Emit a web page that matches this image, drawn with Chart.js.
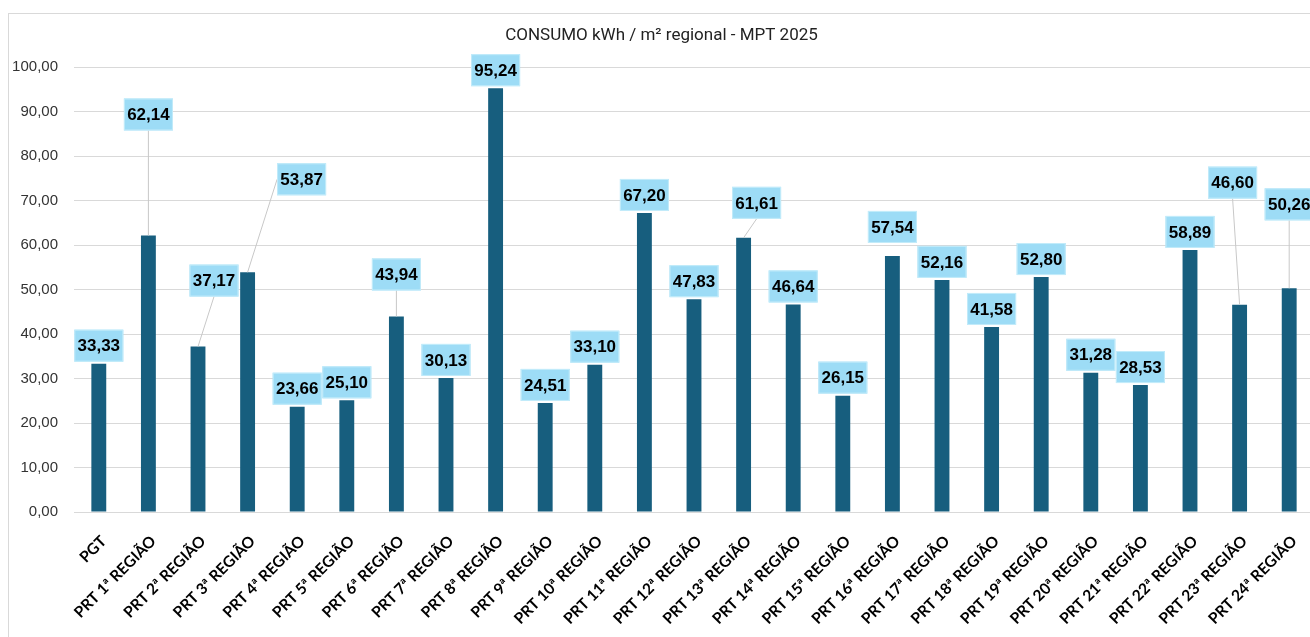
<!DOCTYPE html>
<html>
<head>
<meta charset="utf-8">
<title>CONSUMO kWh / m² regional - MPT 2025</title>
<script src="https://cdn.jsdelivr.net/npm/chart.js@4.4.1/dist/chart.umd.min.js"></script>
<style>
  html, body { margin: 0; padding: 0; background: #fff; overflow: hidden; width: 1310px; height: 637px; }
  .chart-box { position: absolute; left: 8px; top: 13px; width: 1316px; height: 623px; border-left: 1px solid #d9d9d9; border-top: 1px solid #d9d9d9; }
</style>
</head>
<body>
<div class="chart-box"><canvas id="consumoChart"></canvas></div>
<script>
(function () {
  'use strict';

  var CATEGORIES = ['PGT', 'PRT 1ª REGIÃO', 'PRT 2ª REGIÃO', 'PRT 3ª REGIÃO', 'PRT 4ª REGIÃO', 'PRT 5ª REGIÃO',
    'PRT 6ª REGIÃO', 'PRT 7ª REGIÃO', 'PRT 8ª REGIÃO', 'PRT 9ª REGIÃO', 'PRT 10ª REGIÃO', 'PRT 11ª REGIÃO',
    'PRT 12ª REGIÃO', 'PRT 13ª REGIÃO', 'PRT 14ª REGIÃO', 'PRT 15ª REGIÃO', 'PRT 16ª REGIÃO', 'PRT 17ª REGIÃO',
    'PRT 18ª REGIÃO', 'PRT 19ª REGIÃO', 'PRT 20ª REGIÃO', 'PRT 21ª REGIÃO', 'PRT 22ª REGIÃO', 'PRT 23ª REGIÃO',
    'PRT 24ª REGIÃO'];
  var CONSUMO = [33.33, 62.14, 37.17, 53.87, 23.66, 25.10, 43.94, 30.13, 95.24, 24.51, 33.10, 67.20, 47.83,
    61.61, 46.64, 26.15, 57.54, 52.16, 41.58, 52.80, 31.28, 28.53, 58.89, 46.60, 50.26];
  var Y_MIN = 0;
  var Y_MAX = 100;
  var Y_STEP = 10;
  var TITLE = 'CONSUMO kWh / m² regional - MPT 2025';

  // labels that were dragged away from their bar in the original sheet (px: dx, dy)
  var LABEL_NUDGE = { 1: [0, -103], 2: [16, -48], 3: [54, -75], 6: [0, -24], 13: [13, -17], 16: [0, -11], 23: [-7, -104], 24: [0, -66] };

  var BAR_COLOR = '#175e7e';
  var BOX_COLOR = '#9ddcf6';
  var BOX_W = 49;
  var BOX_H = 32;

  function fmt(v) {
    return Number(v).toFixed(2).replace('.', ',');
  }

  var calloutPlugin = {
    id: 'callouts',
    afterDatasetsDraw: function (chart) {
      var ctx = chart.ctx;
      var meta = chart.getDatasetMeta(0);
      var data = chart.data.datasets[0].data;
      ctx.save();
      meta.data.forEach(function (bar, i) {
        var n = LABEL_NUDGE[i] || [0, 0];
        var cx = bar.x + n[0];
        var cy = bar.y - 2 - BOX_H / 2 + n[1];
        var left = cx - BOX_W / 2, top = cy - BOX_H / 2;
        // leader line
        if (n[1] < -12 || Math.abs(n[0]) > 20) {
          var ax, ay;
          if (bar.x < left) { ax = left; ay = cy; }
          else if (bar.x > left + BOX_W) { ax = left + BOX_W; ay = cy; }
          else { ax = cx; ay = top + BOX_H; }
          ctx.strokeStyle = '#c8c8c8';
          ctx.lineWidth = 1;
          ctx.beginPath();
          ctx.moveTo(ax, ay);
          ctx.lineTo(bar.x, bar.y);
          ctx.stroke();
        }
        ctx.fillStyle = BOX_COLOR;
        ctx.fillRect(left, top, BOX_W, BOX_H);
        ctx.strokeStyle = '#c4ecfa';
        ctx.lineWidth = 1;
        ctx.strokeRect(left + 0.5, top + 0.5, BOX_W - 1, BOX_H - 1);
        ctx.fillStyle = '#000';
        ctx.font = 'bold 17px "Liberation Sans", Arial, sans-serif';
        ctx.textAlign = 'center';
        ctx.textBaseline = 'middle';
        ctx.fillText(fmt(data[i]), cx, cy + 1);
      });
      ctx.restore();
    }
  };

  function initChart() {
    var canvas = document.getElementById('consumoChart');
    if (!canvas) return;
    new Chart(canvas, {
      type: 'bar',
      data: {
        labels: CATEGORIES,
        datasets: [{
          label: 'Consumo',
          data: CONSUMO,
          backgroundColor: BAR_COLOR,
          borderWidth: 0,
          barPercentage: 0.3,
          categoryPercentage: 1
        }]
      },
      options: {
        responsive: true,
        maintainAspectRatio: false,
        animation: false,
        layout: { padding: { top: 0, right: 11, bottom: 0, left: 0 } },
        plugins: {
          legend: { display: false },
          tooltip: { enabled: false },
          title: {
            display: true,
            text: TITLE,
            color: '#222',
            font: { size: 17, weight: 'normal', family: 'Roboto, sans-serif', lineHeight: 1.2 },
            padding: { top: 12, bottom: 20.6 }
          }
        },
        scales: {
          y: {
            min: Y_MIN,
            max: Y_MAX,
            ticks: {
              stepSize: Y_STEP,
              color: '#333',
              padding: 16,
              font: { size: 15, family: '"Liberation Sans", Arial, sans-serif' },
              callback: function (v) { return fmt(v); }
            },
            grid: { color: '#d9d9d9', lineWidth: 1, drawTicks: false },
            border: { display: false },
            afterFit: function (scale) { scale.width = 65; }
          },
          x: {
            ticks: {
              color: '#000',
              minRotation: 45,
              maxRotation: 45,
              autoSkip: false,
              padding: 20,
              labelOffset: 5,
              font: { size: 15.5, weight: 'bold', family: 'Lato, sans-serif' }
            },
            grid: { display: false, drawTicks: false },
            border: { display: false },
            afterFit: function (scale) { scale.height = 125; }
          }
        }
      },
      plugins: [calloutPlugin]
    });
  }

  if (document.readyState === 'loading') {
    document.addEventListener('DOMContentLoaded', initChart);
  } else {
    initChart();
  }
})();
</script>
</body>
</html>
